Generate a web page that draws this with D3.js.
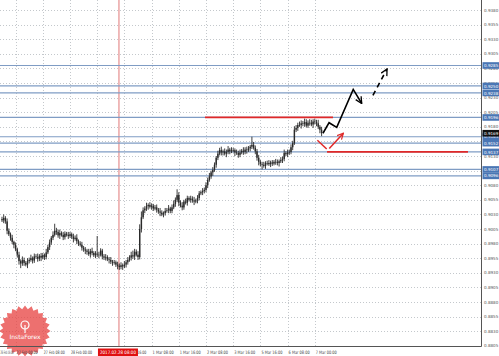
<!DOCTYPE html>
<html>
<head>
<meta charset="utf-8">
<script src="https://cdn.jsdelivr.net/npm/d3@7"></script>
<style>
  body { margin: 0; background: #fff; }
  svg { display: block; font-family: "DejaVu Sans", sans-serif; }
</style>
</head>
<body>
<div id="chart"></div>
<script>
// candle closes in pips (price * 10000), one per bar
const closes = [
  9020, 9024, 9018, 9002, 8996, 8990, 8983, 8978, 8970, 8961,
  8950, 8946, 8952, 8947, 8944, 8950, 8952, 8955, 8951, 8958,
  8957, 8954, 8959, 8956, 8960, 8957, 8965, 8974, 8982, 8990,
  8995, 9002, 9000, 8994, 8998, 8995, 8991, 8997, 8995, 8993,
  8996, 8992, 8988, 8990, 8984, 8980, 8978, 8973, 8970, 8968,
  8966, 8962, 8967, 8964, 8960, 8963, 8961, 8961, 8968, 8958,
  8956, 8957, 8953, 8952, 8949, 8947, 8948, 8944, 8942, 8940,
  8943, 8941, 8944, 8948, 8952, 8956, 8960, 8958, 8966, 8961,
  8957, 9005, 9025, 9037, 9040, 9044, 9046, 9043, 9045, 9040,
  9042, 9038, 9035, 9033, 9030, 9032, 9036, 9037, 9040, 9036,
  9042, 9048, 9055, 9063, 9050, 9045, 9042, 9052, 9050, 9058,
  9055, 9057, 9054, 9052, 9054, 9058, 9066, 9068, 9070, 9072,
  9080, 9089, 9095, 9102, 9106, 9115, 9127, 9134, 9140, 9136,
  9138, 9134, 9137, 9141, 9138, 9140, 9140, 9136, 9135, 9132,
  9136, 9139, 9137, 9141, 9140, 9143, 9146, 9149, 9144, 9138,
  9127, 9120, 9116, 9115, 9113, 9118, 9118, 9116, 9119, 9117,
  9120, 9120, 9118, 9121, 9123, 9125, 9135, 9133, 9136, 9137,
  9145, 9152, 9175, 9178, 9183, 9183, 9186, 9185, 9188, 9182,
  9187, 9187, 9184, 9189, 9188, 9186, 9180, 9175, 9169
];
const firstOpen = 9022;

// upper / lower wick lengths in pips
const wickUp = [
  4,6,3,5,4,3,5,2,4,3, 5,3,6,4,3,5,4,6,3,5, 4,6,3,5,4,3,6,4,5,3,
  6,12,5,4,6,3,5,4,3,5, 4,3,5,4,6,3,4,5,3,4, 3,5,4,6,3,4,30,5,4,3,
  4,5,3,4,5,3,4,3,5,4, 5,3,6,4,5,4,6,8,5,4, 6,8,10,5,4,6,3,5,4,3,
  4,5,3,6,4,3,5,4,6,3, 5,6,4,10,5,4,6,3,5,4, 3,5,4,6,3,5,4,3,5,4,
  5,4,6,3,5,4,3,5,4,6, 3,5,4,6,3,5,4,3,5,4, 5,3,6,4,5,4,3,14,5,4,
  4,5,3,4,5,3,4,5,3,4, 3,5,4,3,5,4,6,3,5,4, 5,4,6,5,4,6,5,4,6,5,
  4,6,5,4,5,4,6,3,5
];
const wickDown = [
  3,5,4,6,3,5,4,6,3,5, 6,8,4,5,3,6,4,3,5,4, 3,5,4,6,3,5,4,3,5,4,
  4,3,5,4,6,3,5,4,3,5, 3,4,6,3,5,4,3,5,4,6, 5,3,6,4,3,5,4,6,3,5,
  4,5,3,6,4,5,3,4,6,5, 4,6,3,5,4,3,5,4,6,3, 5,4,6,3,5,4,6,3,5,4,
  3,5,4,6,3,5,4,3,5,4, 4,3,5,4,6,3,5,4,3,5, 3,5,4,6,3,5,4,3,5,4,
  4,5,3,4,6,3,5,4,3,5, 5,3,6,4,5,3,4,6,3,5, 4,3,5,4,6,3,5,4,3,5,
  5,6,4,8,3,5,4,3,5,4, 3,5,4,6,3,5,4,3,5,4, 4,5,3,4,5,3,6,4,5,3,
  4,5,3,6,4,5,4,6,5
];

// time axis: bar index of each label and its text
const timeTickBars = [-8, 8, 24, 40, 56, 72, 88, 104, 120, 136, 152, 168, 184];
const timeTickLabels = ["26 Feb 16:00", "27 Feb 00:00", "27 Feb 08:00", "28 Feb 00:00",
  "28 Feb 08:00", "28 Feb 16:00", "1 Mar 08:00", "1 Mar 16:00", "2 Mar 08:00",
  "3 Mar 16:00", "5 Mar 16:00", "6 Mar 08:00", "7 Mar 00:00"];
const separatorBar = 68.8;
const separatorLabel = "2017.02.28 08:00";

// price axis
const priceTicks = d3.range(8805, 9381, 25);

// horizontal support/resistance levels (blue) and current price
const blueLevels = [9285, 9250, 9238, 9196, 9163, 9152, 9137, 9107, 9096];
const currentPrice = 9169;

// red levels: [fromBar, toBar, price]
const redLevels = [[119.4, 194.7, 9196], [191.2, 274.1, 9137]];

// forecast paths: [bar, price]
const blackSolid = [[188.8, 9169], [192.4, 9187], [196.9, 9179], [206.6, 9244], [211.6, 9220]];
const blackDashed = [[218.2, 9234], [226.5, 9279]];
const redDown = [[185.5, 9157], [191, 9142]];
const redUp = [[192.5, 9143], [200.8, 9169]];

const W = 499, H = 356;
const plotRight = 481.5, plotBottom = 346.5;

const svg = d3.select("#chart").append("svg")
    .attr("width", W).attr("height", H);

const x = d3.scaleLinear().domain([0, 188]).range([2, 2 + 1.7 * 188]);
const y = d3.scaleLinear().domain([8805, 9380]).range([345.8, 10]);

const defs = svg.append("defs");
function marker(id, color) {
    defs.append("marker")
        .attr("id", id)
        .attr("viewBox", "0 0 10 10")
        .attr("refX", 9).attr("refY", 5)
        .attr("markerWidth", 5).attr("markerHeight", 5)
        .attr("orient", "auto")
        .append("path")
        .attr("d", "M1,1 L9,5 L1,9")
        .attr("fill", "none")
        .attr("stroke", color)
        .attr("stroke-width", 1.6);
}
marker("arrBlack", "#000");
marker("arrRed", "#e02828");

const plot = svg.append("g");
plot.append("clipPath").attr("id", "clip")
    .append("rect").attr("width", plotRight).attr("height", plotBottom);
const inner = plot.append("g").attr("clip-path", "url(#clip)");

// grid
inner.selectAll(".hgrid").data(priceTicks).enter().append("line")
    .attr("x1", 0).attr("x2", plotRight)
    .attr("y1", d => Math.round(y(d)) + 0.5).attr("y2", d => Math.round(y(d)) + 0.5)
    .attr("stroke", "#c4c8cc").attr("stroke-dasharray", "1,2");
inner.selectAll(".vgrid").data(timeTickBars).enter().append("line")
    .attr("x1", d => Math.round(x(d)) + 0.5).attr("x2", d => Math.round(x(d)) + 0.5)
    .attr("y1", 0).attr("y2", plotBottom)
    .attr("stroke", "#c4c8cc").attr("stroke-dasharray", "1,2");

// period separator
inner.append("line")
    .attr("x1", x(separatorBar)).attr("x2", x(separatorBar))
    .attr("y1", 0).attr("y2", plotBottom)
    .attr("stroke", "#e07878").attr("stroke-width", 1);

// blue levels
inner.selectAll(".lvl").data(blueLevels).enter().append("line")
    .attr("x1", 0).attr("x2", plotRight)
    .attr("y1", d => y(d)).attr("y2", d => y(d))
    .attr("stroke", "#7f9cc4").attr("stroke-width", 1.2);

// candles
const bars = closes.map((c, i) => {
    const o = i === 0 ? firstOpen : closes[i - 1];
    return {i: i, o: o, c: c, h: Math.max(o, c) + wickUp[i], l: Math.min(o, c) - wickDown[i]};
});
inner.selectAll(".wick").data(bars).enter().append("line")
    .attr("x1", d => x(d.i)).attr("x2", d => x(d.i))
    .attr("y1", d => y(d.h)).attr("y2", d => y(d.l))
    .attr("stroke", "#2a2a2a").attr("stroke-width", 0.9);
inner.selectAll(".body").data(bars).enter().append("rect")
    .attr("x", d => x(d.i) - 0.7)
    .attr("width", 1.4)
    .attr("y", d => y(Math.max(d.o, d.c)))
    .attr("height", d => Math.max(0.6, Math.abs(y(d.o) - y(d.c))))
    .attr("fill", "#2a2a2a");

// red levels
inner.selectAll(".red").data(redLevels).enter().append("line")
    .attr("x1", d => x(d[0])).attr("x2", d => x(d[1]))
    .attr("y1", d => y(d[2])).attr("y2", d => y(d[2]))
    .attr("stroke", "#e02828").attr("stroke-width", 1.8);

const line = d3.line().x(d => x(d[0])).y(d => y(d[1]));
inner.append("path").datum(blackSolid).attr("d", line)
    .attr("fill", "none").attr("stroke", "#000").attr("stroke-width", 1.6)
    .attr("marker-end", "url(#arrBlack)");
inner.append("path").datum(blackDashed).attr("d", line)
    .attr("fill", "none").attr("stroke", "#000").attr("stroke-width", 1.6)
    .attr("stroke-dasharray", "5,4")
    .attr("marker-end", "url(#arrBlack)");
inner.append("path").datum(redDown).attr("d", line)
    .attr("fill", "none").attr("stroke", "#e02828").attr("stroke-width", 1.5);
inner.append("path").datum(redUp).attr("d", line)
    .attr("fill", "none").attr("stroke", "#e02828").attr("stroke-width", 1.5)
    .attr("marker-end", "url(#arrRed)");

// watermark badge
const badge = svg.append("g").attr("transform", "translate(25,331)").attr("opacity", 0.75);
const pts = d3.range(48).map(k => {
    const r = k % 2 ? 22 : 25.5;
    const a = k / 48 * 2 * Math.PI;
    return [r * Math.cos(a), r * Math.sin(a)];
});
badge.append("polygon").attr("points", pts.join(" ")).attr("fill", "#e8413f");
badge.append("circle").attr("cy", -6).attr("r", 4).attr("fill", "none")
    .attr("stroke", "#fff").attr("stroke-width", 1.2);
badge.append("line").attr("y1", -6).attr("y2", 2).attr("stroke", "#fff").attr("stroke-width", 1.2);
badge.append("text").attr("y", 8).attr("text-anchor", "middle")
    .attr("font-size", 6).attr("fill", "#fff").text("InstaForex");

// axes frame
svg.append("line").attr("x1", plotRight).attr("x2", plotRight)
    .attr("y1", 0).attr("y2", plotBottom).attr("stroke", "#555");
svg.append("line").attr("x1", 0).attr("x2", plotRight)
    .attr("y1", plotBottom).attr("y2", plotBottom).attr("stroke", "#555");

// price labels, small enough to fit the narrow axis strip
svg.selectAll(".pl").data(priceTicks).enter().append("text")
    .attr("x", plotRight + 2.5).attr("y", d => y(d) + 1.6)
    .attr("font-size", 4.1).attr("fill", "#555")
    .text(d => (d / 10000).toFixed(4));

function priceBox(v, fill) {
    const g = svg.append("g").attr("transform", `translate(${plotRight + 1},${y(v) - 3.3})`);
    g.append("rect").attr("width", W - plotRight).attr("height", 6.6).attr("fill", fill);
    g.append("text").attr("x", 1.5).attr("y", 4.9).attr("font-size", 4.1).attr("fill", "#fff")
        .text((v / 10000).toFixed(4));
}
blueLevels.forEach(v => priceBox(v, "#4a76b4"));
priceBox(currentPrice, "#111");

// time labels
svg.selectAll(".tl").data(timeTickBars).enter().append("text")
    .attr("x", d => Math.max(0.5, x(d) + 1)).attr("y", 354)
    .attr("font-size", 4.6).attr("fill", "#444")
    .attr("textLength", (d, i) => i === 0 ? 13 : 21).attr("lengthAdjust", "spacingAndGlyphs")
    .text((d, i) => timeTickLabels[i]);

const sx = x(separatorBar);
svg.append("rect").attr("x", sx - 21).attr("y", 348.5).attr("width", 40).attr("height", 7.5)
    .attr("fill", "#e01010");
svg.append("text").attr("x", sx - 19).attr("y", 354.2)
    .attr("font-size", 4.6).attr("fill", "#fff")
    .attr("textLength", 36).attr("lengthAdjust", "spacingAndGlyphs")
    .text(separatorLabel);
</script>
</body>
</html>
